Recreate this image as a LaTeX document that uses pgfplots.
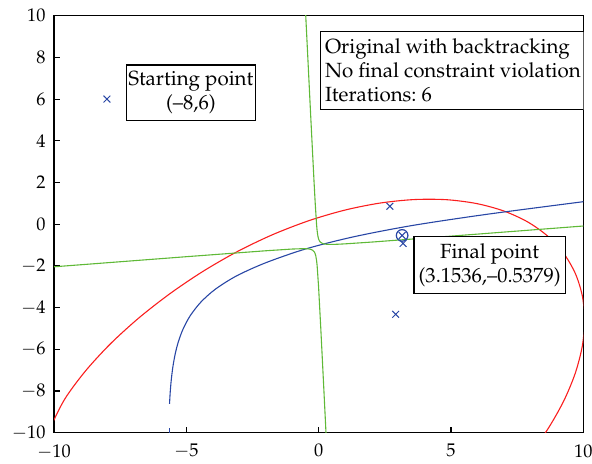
\documentclass[border=0pt]{standalone}
\usepackage[T1]{fontenc}
\usepackage{mathpazo}
\usepackage{pgfplots}
\pgfplotsset{compat=1.18}
\definecolor{cred}{RGB}{250,30,30}
\definecolor{cblue}{RGB}{40,70,165}
\definecolor{cgreen}{RGB}{95,185,55}
\begin{document}
\frenchspacing
\begin{tikzpicture}
\useasboundingbox (-27bp,-15.15bp) rectangle (268.99bp,216.35bp);
\begin{axis}[
  scale only axis, width=264.65bp, height=208.5bp,
  xmin=-10, xmax=10, ymin=-10, ymax=10,
  xtick={-10,-5,0,5,10}, ytick={-10,-8,-6,-4,-2,0,2,4,6,8,10},
  tick align=inside, xtick pos=bottom, ytick pos=left,
  major tick length=3bp,
  axis line style={line width=0.7pt},
  every tick/.style={black, line width=0.6pt},
  tick label style={font=\fontsize{9.2}{11}\selectfont, inner sep=1bp},
  xticklabel style={yshift=-4.65bp},
  yticklabel style={xshift=-3.05bp},
  clip=true,
]
% red ellipse constraint
\addplot[cred, line width=0.55pt, smooth] coordinates {
(6.995,-12.47) (7.895,-11.169) (8.653,-9.835) (9.256,-8.488) (9.695,-7.150)
(9.961,-5.847) (10.05,-4.599) (9.961,-3.429) (9.695,-2.354) (9.256,-1.396)
(8.653,-0.569) (7.895,0.111) (6.995,0.634) (5.969,0.990) (4.835,1.175)
(3.611,1.182) (2.319,1.014) (0.981,0.674) (-0.380,0.165) (-1.741,-0.502)
(-3.079,-1.316) (-4.371,-2.262) (-5.615,-3.327) (-6.789,-4.490) (-7.865,-5.732)
(-8.805,-7.031) (-9.583,-8.365) (-10.12,-9.712) (-10.56,-11.05)
};
% blue constraint
\addplot[cblue, line width=0.55pt, smooth] coordinates {
(-5.635,-8.62) (-5.61,-8.079) (-5.57,-7.477) (-5.51,-6.856) (-5.42,-6.220)
(-5.30,-5.633) (-5.12,-5.019) (-4.85,-4.383) (-4.45,-3.735) (-3.90,-3.114)
(-3.10,-2.477) (-2.00,-1.849) (-0.50,-1.19) (1.30,-0.61) (3.50,-0.07)
(6.30,0.465) (10.0,1.080) (10.5,1.156)
};
\addplot[cblue, line width=0.55pt] coordinates {(-5.64,-9.78) (-5.64,-10.3)};
% green hyperbola, upper branch
\addplot[cgreen, line width=0.55pt] coordinates {
(-0.507,10.5) (-0.488,10) (-0.293,5) (-0.173,2) (-0.130,1) (-0.080,0)
(-0.059,-0.3) (-0.038,-0.5) (-0.024,-0.6) (-0.004,-0.7) (0.010,-0.75)
(0.029,-0.8) (0.056,-0.85) (0.1,-0.890) (0.15,-0.925) (0.2,-0.944)
(0.3,-0.963) (0.5,-0.968) (0.7,-0.962) (1,-0.942) (2,-0.857) (5,-0.572)
(10,-0.087) (10.5,-0.04)
};
% green hyperbola, lower branch
\addplot[cgreen, line width=0.55pt] coordinates {
(-10.5,-2.092) (-10,-2.043) (-5,-1.558) (-2,-1.274) (-1,-1.191) (-0.6,-1.174)
(-0.45,-1.1785) (-0.4,-1.184) (-0.35,-1.192) (-0.3,-1.206) (-0.222,-1.25)
(-0.153,-1.35) (-0.111,-1.5) (-0.078,-1.75) (-0.057,-2) (-0.0034,-3)
(0.0807,-5) (0.199,-8) (0.277,-10) (0.296,-10.5)
};
% iterates
\addplot[cblue, only marks, mark=x, mark size=2.4bp, line width=0.5pt] coordinates {
(-8,6) (2.69,0.86) (2.91,-4.32) (3.19,-0.92) (3.1536,-0.5379)
};
\addplot[cblue, only marks, mark=o, mark size=2.9bp, line width=0.6pt] coordinates {
(3.1536,-0.5379)
};
% text boxes
\node[draw, line width=0.7pt, fill=white, align=center, minimum width=64.2bp, minimum height=27.8bp, inner sep=1bp, font=\fontsize{10.3}{12.1}\selectfont]
  at (axis cs:-4.83,6.30) {Starting point\\(--8,6)};
\node[draw, line width=0.7pt, fill=white, anchor=north west, align=left, minimum width=128.8bp, minimum height=39bp, inner xsep=2.2bp, inner ysep=1bp, font=\fontsize{10.3}{12.1}\selectfont]
  at (axis cs:0.05,9.27) {Original with backtracking\\No final constraint violation\\Iterations: 6};
\node[draw, line width=0.7pt, fill=white, align=center, minimum width=75.7bp, minimum height=28.3bp, inner sep=1bp, font=\fontsize{10.3}{12.1}\selectfont]
  at (axis cs:6.46,-1.955) {Final point\\(3.1536,--0.5379)};
\end{axis}
\end{tikzpicture}
\end{document}
